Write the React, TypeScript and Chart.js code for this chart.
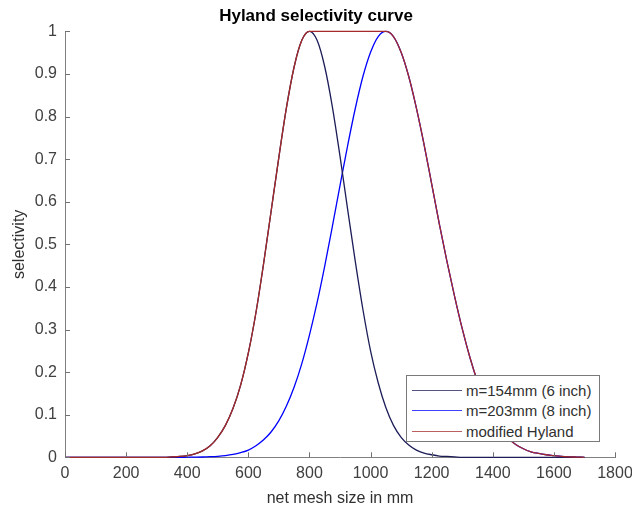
import React, { useEffect, useRef } from "react";
import { Chart, registerables } from "chart.js";

Chart.register(...registerables);

// Net mesh size (mm) sample points
const meshSizes = [
  0, 100, 200, 300,
  325, 350, 375, 400, 425, 450, 475, 500, 525, 550, 575, 600, 625, 650, 675, 700, 725, 750, 775, 800,
  825, 850, 875, 900, 925, 950, 975, 1000, 1025, 1050, 1075, 1100, 1125, 1150, 1175, 1200, 1225, 1250, 1275, 1300,
  1325, 1350, 1375, 1400, 1425, 1450, 1475, 1500, 1525, 1550, 1575, 1600, 1625, 1650, 1675, 1700,
];

// m=154mm (6 inch)
const selectivity154 = [
  0, 0, 0, 0,
  0, 0.001, 0.002, 0.004, 0.008, 0.015, 0.027, 0.047, 0.075, 0.115, 0.17, 0.245, 0.34, 0.455, 0.58, 0.705, 0.822, 0.917, 0.979, 1,
  0.979, 0.917, 0.823, 0.707, 0.582, 0.46, 0.347, 0.25, 0.175, 0.117, 0.075, 0.047, 0.029, 0.017, 0.01, 0.006, 0.003, 0.002, 0.001, 0,
  0, 0, 0, 0, 0, 0, 0, 0, 0, 0, 0, 0, 0, 0, 0, 0,
];

// m=203mm (8 inch)
const selectivity203 = [
  0, 0, 0, 0,
  0, 0, 0, 0.0002, 0.0004, 0.0007, 0.0014, 0.0024, 0.004, 0.0067, 0.011, 0.017, 0.027, 0.041, 0.06, 0.086, 0.121, 0.165, 0.22, 0.287,
  0.363, 0.449, 0.542, 0.638, 0.732, 0.819, 0.894, 0.951, 0.988, 1, 0.988, 0.951, 0.894, 0.82, 0.735, 0.642, 0.548, 0.46, 0.378, 0.302,
  0.235, 0.178, 0.131, 0.094, 0.066, 0.045, 0.03, 0.02, 0.013, 0.009, 0.006, 0.004, 0.002, 0.001, 0.0005, 0,
];

// modified Hyland
const selectivityModified = [
  0, 0, 0, 0,
  0, 0.001, 0.002, 0.004, 0.008, 0.015, 0.027, 0.047, 0.075, 0.115, 0.17, 0.245, 0.34, 0.455, 0.58, 0.705, 0.822, 0.917, 0.979, 1,
  1, 1, 1, 1, 1, 1, 1, 1, 1, 1, 0.988, 0.951, 0.894, 0.82, 0.735, 0.642, 0.548, 0.46, 0.378, 0.302,
  0.235, 0.178, 0.131, 0.094, 0.066, 0.045, 0.03, 0.02, 0.013, 0.009, 0.006, 0.004, 0.002, 0.001, 0.0005, 0,
];

const xTicks = [0, 200, 400, 600, 800, 1000, 1200, 1400, 1600, 1800];
const yTicks = [0, 0.1, 0.2, 0.3, 0.4, 0.5, 0.6, 0.7, 0.8, 0.9, 1];

const seriesLabels = ["m=154mm (6 inch)", "m=203mm (8 inch)", "modified Hyland"];
const seriesColors = ["#1c1c58", "#0000ff", "#a52a2a"];
const seriesValues = [selectivity154, selectivity203, selectivityModified];
const seriesOrder = [1, 2, 0];

const FONT = "'Liberation Sans', Arial, Helvetica, sans-serif";

const inwardTicks = {
  id: "inwardTicks",
  afterDatasetsDraw(chart: any) {
    const { ctx, chartArea, scales } = chart;
    ctx.save();
    ctx.strokeStyle = "#707070";
    ctx.lineWidth = 1;
    ctx.beginPath();
    for (const v of xTicks) {
      const px = Math.round(scales.x.getPixelForValue(v)) + 0.5;
      ctx.moveTo(px, chartArea.bottom);
      ctx.lineTo(px, chartArea.bottom - 5);
    }
    for (const v of yTicks) {
      const py = Math.round(scales.y.getPixelForValue(v)) + 0.5;
      ctx.moveTo(chartArea.left, py);
      ctx.lineTo(chartArea.left + 5, py);
    }
    ctx.stroke();
    ctx.restore();
  },
};

export default function App() {
  const canvasRef = useRef<HTMLCanvasElement | null>(null);

  useEffect(() => {
    document.body.style.margin = "0";
    const canvas = canvasRef.current;
    if (!canvas) return;
    const chart = new Chart(canvas, {
      type: "line",
      data: {
        datasets: seriesLabels.map((label, i) => ({
          label,
          data: meshSizes.map((x, j) => ({ x, y: seriesValues[i][j] })),
          borderColor: seriesColors[i],
          backgroundColor: seriesColors[i],
          borderWidth: 1.3,
          pointRadius: 0,
          cubicInterpolationMode: "monotone" as const,
          fill: false,
          clip: false as any,
          order: seriesOrder[i],
        })),
      },
      options: {
        responsive: false,
        animation: false,
        devicePixelRatio: 1,
        layout: { padding: { left: 0, right: 0, top: 0, bottom: 0 } },
        plugins: {
          legend: { display: false },
          tooltip: { enabled: false },
          title: {
            display: true,
            text: "Hyland selectivity curve",
            color: "#000000",
            font: { family: FONT, size: 17, weight: "bold" },
            padding: { top: 6, bottom: 5 },
          },
        },
        scales: {
          x: {
            type: "linear",
            min: 0,
            max: 1800,
            afterBuildTicks: (s: any) => {
              s.ticks = xTicks.map((v) => ({ value: v }));
            },
            ticks: {
              color: "#404040",
              font: { family: FONT, size: 16 },
              padding: 7,
              maxRotation: 0,
              autoSkip: false,
              callback: (v: any) => String(v),
            },
            grid: { display: false, drawTicks: false },
            border: { display: true, color: "#808080", width: 1 },
            title: {
              display: true,
              text: "net mesh size in mm",
              color: "#303030",
              font: { family: FONT, size: 16 },
              padding: { top: 0, bottom: 2 },
            },
            afterFit: (s: any) => {
              s.height = 52.7;
              s.paddingLeft = 0;
              s.paddingRight = 17;
            },
          },
          y: {
            type: "linear",
            min: 0,
            max: 1,
            afterBuildTicks: (s: any) => {
              s.ticks = yTicks.map((v) => ({ value: v }));
            },
            ticks: {
              color: "#404040",
              font: { family: FONT, size: 16 },
              padding: 8,
              callback: (v: any) => String(Number(Number(v).toFixed(1))),
            },
            grid: { display: false, drawTicks: false },
            border: { display: true, color: "#808080", width: 1 },
            title: {
              display: true,
              text: "selectivity",
              color: "#303030",
              font: { family: FONT, size: 16 },
              padding: { top: 10, bottom: 0 },
            },
            afterFit: (s: any) => {
              s.width = 65;
            },
          },
        },
      },
      plugins: [inwardTicks],
    });
    return () => chart.destroy();
  }, []);

  return (
    <div style={{ position: "relative", width: 632, height: 510 }}>
      <canvas ref={canvasRef} width={632} height={510} style={{ display: "block" }} />
      <div
        style={{
          position: "absolute",
          left: 406,
          top: 375,
          width: 194,
          height: 67,
          boxSizing: "border-box",
          border: "1px solid #7a7a7a",
          background: "#ffffff",
          paddingTop: 4,
          fontFamily: FONT,
          fontSize: 15,
          color: "#303030",
        }}
      >
        {seriesLabels.map((label, i) => (
          <div key={label} style={{ display: "flex", alignItems: "center", height: 20.5 }}>
            <div
              style={{
                marginLeft: 5,
                width: 50,
                height: 0,
                borderTop: `1.5px solid ${seriesColors[i]}`,
                opacity: 0.75,
              }}
            />
            <span style={{ marginLeft: 4, whiteSpace: "nowrap" }}>{label}</span>
          </div>
        ))}
      </div>
    </div>
  );
}
